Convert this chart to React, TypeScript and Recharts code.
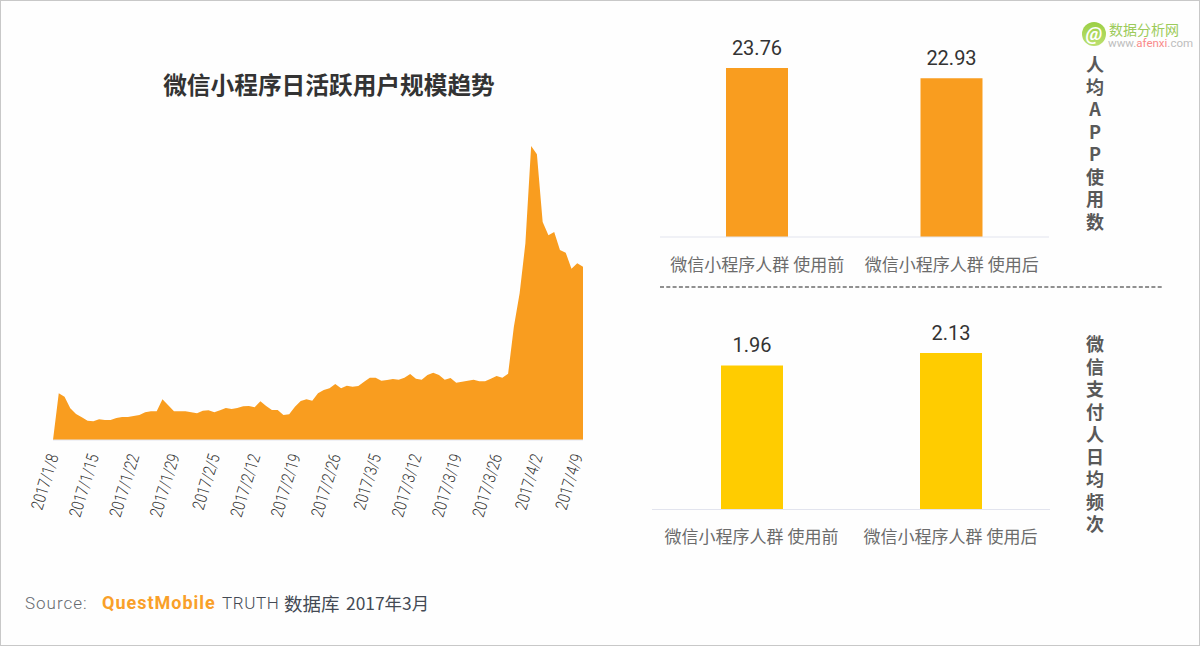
import { AreaChart, Area, BarChart, Bar, XAxis, YAxis, LabelList } from 'recharts';

const dates = [
	'',
	'2017/1/8', '2017/1/9', '2017/1/10', '2017/1/11', '2017/1/12', '2017/1/13', '2017/1/14',
	'2017/1/15', '2017/1/16', '2017/1/17', '2017/1/18', '2017/1/19', '2017/1/20', '2017/1/21',
	'2017/1/22', '2017/1/23', '2017/1/24', '2017/1/25', '2017/1/26', '2017/1/27', '2017/1/28',
	'2017/1/29', '2017/1/30', '2017/1/31', '2017/2/1', '2017/2/2', '2017/2/3', '2017/2/4',
	'2017/2/5', '2017/2/6', '2017/2/7', '2017/2/8', '2017/2/9', '2017/2/10', '2017/2/11',
	'2017/2/12', '2017/2/13', '2017/2/14', '2017/2/15', '2017/2/16', '2017/2/17', '2017/2/18',
	'2017/2/19', '2017/2/20', '2017/2/21', '2017/2/22', '2017/2/23', '2017/2/24', '2017/2/25',
	'2017/2/26', '2017/2/27', '2017/2/28', '2017/3/1', '2017/3/2', '2017/3/3', '2017/3/4',
	'2017/3/5', '2017/3/6', '2017/3/7', '2017/3/8', '2017/3/9', '2017/3/10', '2017/3/11',
	'2017/3/12', '2017/3/13', '2017/3/14', '2017/3/15', '2017/3/16', '2017/3/17', '2017/3/18',
	'2017/3/19', '2017/3/20', '2017/3/21', '2017/3/22', '2017/3/23', '2017/3/24', '2017/3/25',
	'2017/3/26', '2017/3/27', '2017/3/28', '2017/3/29', '2017/3/30', '2017/3/31', '2017/4/1',
	'2017/4/2', '2017/4/3', '2017/4/4', '2017/4/5', '2017/4/6', '2017/4/7', '2017/4/8',
	'2017/4/9',
];

// no axis in the source, so these are relative heights
const dailyActive = [
	0,
	140, 130, 95, 78, 68, 58, 56,
	62, 60, 60, 66, 69, 69, 72,
	75, 83, 86, 86, 122, 104, 86,
	86, 86, 83, 80, 88, 89, 83,
	89, 96, 93, 96, 101, 102, 98,
	116, 102, 90, 90, 75, 77, 100,
	117, 122, 118, 140, 150, 155, 168,
	155, 163, 160, 162, 175, 187, 187,
	178, 180, 183, 181, 187, 198, 184,
	181, 195, 202, 195, 181, 186, 172,
	175, 178, 181, 176, 176, 184, 192,
	187, 199, 340, 440, 590, 882, 857,
	654, 614, 624, 570, 562, 514, 530,
	520,
];

const weekTicks = [
	'2017/1/8', '2017/1/15', '2017/1/22', '2017/1/29', '2017/2/5', '2017/2/12', '2017/2/19',
	'2017/2/26', '2017/3/5', '2017/3/12', '2017/3/19', '2017/3/26', '2017/4/2', '2017/4/9',
];

const groups = ['微信小程序人群 使用前', '微信小程序人群 使用后'];
const appCounts = [23.76, 22.93];
const payFrequency = [1.96, 2.13];

const topLabel = '人均APP使用数';
const bottomLabel = '微信支付人日均频次';

const areaData = dates.map((date, i) => ({ date, value: dailyActive[i] }));
const appData = groups.map((name, i) => ({ name, value: appCounts[i] }));
const payData = groups.map((name, i) => ({ name, value: payFrequency[i] }));

const ORANGE = '#F99D1F';
const YELLOW = '#FFCC00';
const CJK = '"Noto Sans CJK SC", "Noto Sans", sans-serif';
const LATIN = 'Roboto, "Noto Sans CJK SC", sans-serif';

// the source labels are condensed, no such font here so squeeze Roboto
const DateTick = ({ x, y, payload }: any) => (
	<text
		transform={`translate(${x} ${y + 8}) rotate(-73) scale(0.82 1)`}
		textAnchor="end"
		fontFamily={LATIN}
		fontWeight={300}
		fontSize={17}
		fill="#333"
	>
		{payload.value}
	</text>
);

const absolute = (left: number, top: number): React.CSSProperties => ({ position: 'absolute', left, top, whiteSpace: 'nowrap' });

function VerticalLabel({ text, top }: { text: string; top: number }) {
	return (
		<div
			style={{
				...absolute(1083, top),
				width: 24,
				textAlign: 'center',
				fontFamily: CJK,
				fontWeight: 700,
				fontSize: 18,
				lineHeight: '22.5px',
				color: '#595959',
			}}
		>
			{text.split('').map((ch, i) => (
				<div key={i}>{ch}</div>
			))}
		</div>
	);
}

function SmallBars({ data, color, left, width, top, bottom, min, max, tickGap }: any) {
	return (
		<div style={{ position: 'absolute', left, top: 0 }}>
			<BarChart
				width={width}
				height={bottom + 45}
				data={data}
				margin={{ top, right: 0, bottom: 0, left: 0 }}
				barSize={62}
			>
				<XAxis
					dataKey="name"
					height={45}
					interval={0}
					axisLine={{ stroke: '#E2E4EE' }}
					tickLine={false}
					tickMargin={tickGap}
					tick={{ fontFamily: CJK, fontSize: 17, fill: '#6B6B6B' }}
				/>
				<YAxis hide domain={[min, max]} allowDataOverflow />
				<Bar dataKey="value" fill={color} isAnimationActive={false}>
					<LabelList
						dataKey="value"
						position="top"
						offset={13}
						style={{ fontFamily: LATIN, fontSize: 20, fill: '#333' }}
					/>
				</Bar>
			</BarChart>
		</div>
	);
}

export default function App() {
	return (
		<div
			style={{
				position: 'absolute',
				left: 0,
				top: 0,
				width: 1200,
				height: 646,
				boxSizing: 'border-box',
				border: '1px solid #C8C8C8',
				background: '#FEFEFE',
				overflow: 'hidden',
			}}
		>
			<div style={{ position: 'absolute', left: -1, top: -1, width: 1200, height: 646 }}>
				<div
					style={{
						...absolute(129, 67),
						width: 400,
						textAlign: 'center',
						fontFamily: CJK,
						fontWeight: 700,
						fontSize: 23.7,
						lineHeight: '34px',
						color: '#333',
					}}
				>
					微信小程序日活跃用户规模趋势
				</div>

				<div style={{ position: 'absolute', left: 0, top: 0 }}>
					<AreaChart
						width={640}
						height={560}
						data={areaData}
						margin={{ top: 146, right: 57, bottom: 0, left: 53 }}
					>
						<XAxis
							dataKey="date"
							height={120}
							ticks={weekTicks}
							interval={0}
							axisLine={{ stroke: '#E2E4EE' }}
							tickLine={false}
							tick={<DateTick />}
						/>
						<YAxis hide domain={[0, 882]} />
						<Area
							type="linear"
							dataKey="value"
							stroke="none"
							fill={ORANGE}
							fillOpacity={1}
							isAnimationActive={false}
							dot={false}
						/>
					</AreaChart>
				</div>

				<SmallBars data={appData} color={ORANGE} left={660} width={389} top={68} bottom={237} min={10} max={23.76} tickGap={16} />
				<SmallBars data={payData} color={YELLOW} left={652} width={398} top={353} bottom={509.5} min={0} max={2.13} tickGap={15} />

				<svg style={{ position: 'absolute', left: 660, top: 284 }} width={504} height={6}>
					<line x1={0} y1={3} x2={504} y2={3} stroke="#222" strokeWidth={1} strokeDasharray="4 2.3" />
				</svg>

				<VerticalLabel text={topLabel} top={52} />
				<VerticalLabel text={bottomLabel} top={332} />

				<svg style={{ position: 'absolute', left: 1080, top: 20 }} width={28} height={28}>
					<defs>
						<linearGradient id="logoFill" x1="0" y1="0" x2="0" y2="1">
							<stop offset="0%" stopColor="#9BCF45" />
							<stop offset="100%" stopColor="#BCE070" />
						</linearGradient>
					</defs>
					<circle cx={14} cy={14} r={12} fill="url(#logoFill)" />
					<text x={14} y={20} textAnchor="middle" fontFamily={LATIN} fontStyle="italic" fontWeight={700} fontSize={19} fill="#fff">
						@
					</text>
				</svg>
				<div style={{ ...absolute(1109, 20), fontFamily: CJK, fontSize: 14, lineHeight: '18px', color: '#9CCB5A' }}>
					数据分析网
				</div>
				<div style={{ ...absolute(1108, 37), fontFamily: LATIN, fontSize: 11.5, lineHeight: '12px', color: '#BDBDBD' }}>
					www.<span style={{ color: '#F98A8A' }}>afenxi</span>.com
				</div>

				<div style={{ ...absolute(25, 592), fontFamily: LATIN, fontWeight: 300, fontSize: 17, lineHeight: '22px', letterSpacing: 1, color: '#666A70' }}>
					Source:
				</div>
				<div style={{ ...absolute(102, 592), fontFamily: LATIN, fontWeight: 700, fontSize: 18, lineHeight: '22px', letterSpacing: 1, color: '#F9A029' }}>
					QuestMobile
				</div>
				<div style={{ ...absolute(222, 592), fontFamily: LATIN, fontWeight: 300, fontSize: 17, lineHeight: '22px', letterSpacing: 0.6, color: '#444A54' }}>
					TRUTH
				</div>
				<div style={{ ...absolute(284, 590), fontFamily: CJK, fontSize: 18.5, lineHeight: '26px', color: '#444A54' }}>
					数据库
				</div>
				<div style={{ ...absolute(346, 590), fontFamily: CJK, fontSize: 17.4, lineHeight: '26px', color: '#444A54' }}>
					2017年3月
				</div>
			</div>
		</div>
	);
}
